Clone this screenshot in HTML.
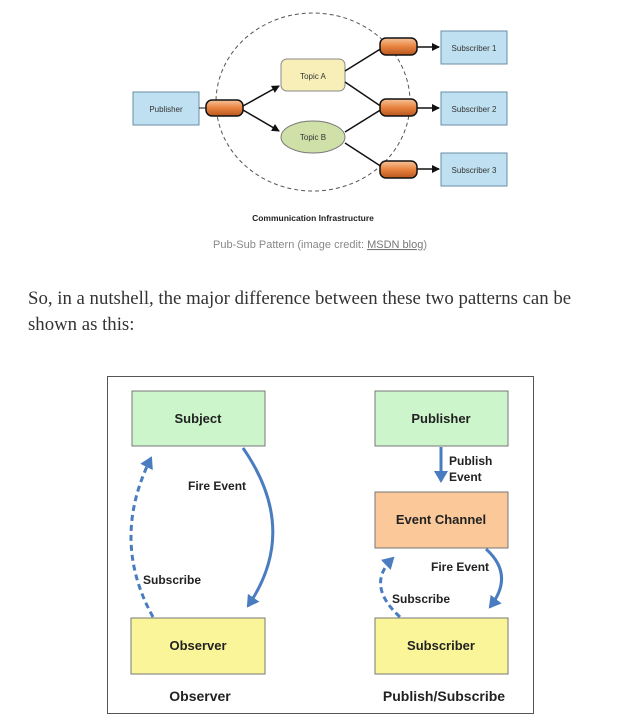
<!DOCTYPE html>
<html><head><style>
body{margin:0;background:#fff;width:642px;height:722px;overflow:hidden;font-family:"Liberation Sans",sans-serif}
.p{position:absolute;left:28px;font-family:"Liberation Serif",serif;font-size:18.8px;color:#333}
</style></head><body>
<svg width="642" height="722" style="position:absolute;left:0;top:0" font-family="Liberation Sans, sans-serif">
<defs>
<linearGradient id="cyl" x1="0" y1="0" x2="0" y2="1"><stop offset="0" stop-color="#f7c39a"/><stop offset="0.5" stop-color="#e8833f"/><stop offset="1" stop-color="#b8561e"/></linearGradient>
<marker id="ah" markerWidth="8" markerHeight="8" refX="7" refY="4" orient="auto" markerUnits="userSpaceOnUse"><path d="M0,0 L8,4 L0,8z" fill="#111"/></marker>
<marker id="bh" markerWidth="14" markerHeight="14" refX="10" refY="7" orient="auto" markerUnits="userSpaceOnUse"><path d="M0,0 L12,7 L0,14z" fill="#4a7cc0"/></marker>
</defs>
<ellipse cx="313" cy="102" rx="97" ry="89" fill="none" stroke="#555" stroke-dasharray="4,3"/>
<rect x="133" y="92" width="66" height="33" fill="#bfe0f0" stroke="#6a8ea6"/>
<text x="166" y="112" font-size="8" text-anchor="middle" fill="#333">Publisher</text>
<line x1="199" y1="108" x2="207" y2="108" stroke="#111"/>
<rect x="206" y="100" width="37" height="16" rx="6" fill="url(#cyl)" stroke="#111" stroke-width="1.5"/>
<line x1="243" y1="106" x2="279" y2="86" stroke="#111" stroke-width="1.5" marker-end="url(#ah)"/>
<line x1="243" y1="110" x2="279" y2="131" stroke="#111" stroke-width="1.5" marker-end="url(#ah)"/>
<rect x="281" y="59" width="64" height="32" rx="6" fill="#f8efb8" stroke="#888"/>
<text x="313" y="79" font-size="8" text-anchor="middle" fill="#333">Topic A</text>
<ellipse cx="313" cy="137" rx="32" ry="16" fill="#cfe0a8" stroke="#777"/>
<text x="313" y="140" font-size="8" text-anchor="middle" fill="#333">Topic B</text>
<line x1="345" y1="71" x2="382" y2="48" stroke="#111" stroke-width="1.5"/>
<line x1="345" y1="82" x2="382" y2="107" stroke="#111" stroke-width="1.5"/>
<line x1="345" y1="132" x2="382" y2="109" stroke="#111" stroke-width="1.5"/>
<line x1="345" y1="143" x2="382" y2="167" stroke="#111" stroke-width="1.5"/>
<g>
<rect x="380" y="38" width="37" height="17" rx="6" fill="url(#cyl)" stroke="#111" stroke-width="1.5"/>
<rect x="380" y="99" width="37" height="17" rx="6" fill="url(#cyl)" stroke="#111" stroke-width="1.5"/>
<rect x="380" y="161" width="37" height="17" rx="6" fill="url(#cyl)" stroke="#111" stroke-width="1.5"/>
</g>
<line x1="417" y1="47" x2="439" y2="47" stroke="#111" stroke-width="1.5" marker-end="url(#ah)"/>
<line x1="417" y1="108" x2="439" y2="108" stroke="#111" stroke-width="1.5" marker-end="url(#ah)"/>
<line x1="417" y1="169" x2="439" y2="169" stroke="#111" stroke-width="1.5" marker-end="url(#ah)"/>
<rect x="441" y="31" width="66" height="33" fill="#bfe0f0" stroke="#6a8ea6"/>
<rect x="441" y="92" width="66" height="33" fill="#bfe0f0" stroke="#6a8ea6"/>
<rect x="441" y="153" width="66" height="33" fill="#bfe0f0" stroke="#6a8ea6"/>
<text x="474" y="51" font-size="8" text-anchor="middle" fill="#333">Subscriber 1</text>
<text x="474" y="112" font-size="8" text-anchor="middle" fill="#333">Subscriber 2</text>
<text x="474" y="173" font-size="8" text-anchor="middle" fill="#333">Subscriber 3</text>
<text x="313" y="221" font-size="8.5" font-weight="bold" text-anchor="middle" fill="#222">Communication Infrastructure</text>
<text x="320" y="248" font-size="11" text-anchor="middle" fill="#888">Pub-Sub Pattern (image credit: <tspan text-decoration="underline" fill="#777">MSDN blog</tspan>)</text>

<rect x="107.5" y="376.5" width="426" height="337" fill="#fff" stroke="#555"/>
<rect x="132" y="391" width="133" height="55" fill="#ccf5cc" stroke="#777"/>
<rect x="375" y="391" width="133" height="55" fill="#ccf5cc" stroke="#777"/>
<rect x="375" y="492" width="133" height="56" fill="#fbc999" stroke="#777"/>
<rect x="131" y="618" width="134" height="56" fill="#fbf59a" stroke="#777"/>
<rect x="375" y="618" width="133" height="56" fill="#fbf59a" stroke="#777"/>
<g font-weight="bold" font-size="13" text-anchor="middle" fill="#222">
<text x="198" y="423">Subject</text>
<text x="441" y="423">Publisher</text>
<text x="441" y="524">Event Channel</text>
<text x="198" y="650">Observer</text>
<text x="441" y="650">Subscriber</text>
<text x="200" y="701" font-size="14">Observer</text>
<text x="444" y="701" font-size="14">Publish/Subscribe</text>
</g>
<g font-weight="bold" font-size="12" fill="#222">
<text x="188" y="490">Fire Event</text>
<text x="143" y="584">Subscribe</text>
<text x="449" y="465">Publish</text>
<text x="449" y="481">Event</text>
<text x="431" y="571">Fire Event</text>
<text x="392" y="603">Subscribe</text>
</g>
<g fill="none" stroke="#4a7cc0" stroke-width="3">
<path d="M243,448 Q300,530 248,606" marker-end="url(#bh)"/>
<path d="M153,617 Q110,540 151,458" stroke-dasharray="6,4" marker-end="url(#bh)"/>
<path d="M441,447 L441,481" marker-end="url(#bh)"/>
<path d="M486,549 Q515,575 490,607" marker-end="url(#bh)"/>
<path d="M400,617 Q365,585 393,558" stroke-dasharray="6,4" marker-end="url(#bh)"/>
</g>
</svg>
<div class="p" style="top:288px">So, in a nutshell, the major difference between these two patterns can be</div>
<div class="p" style="top:314px">shown as this:</div>
</body></html>
